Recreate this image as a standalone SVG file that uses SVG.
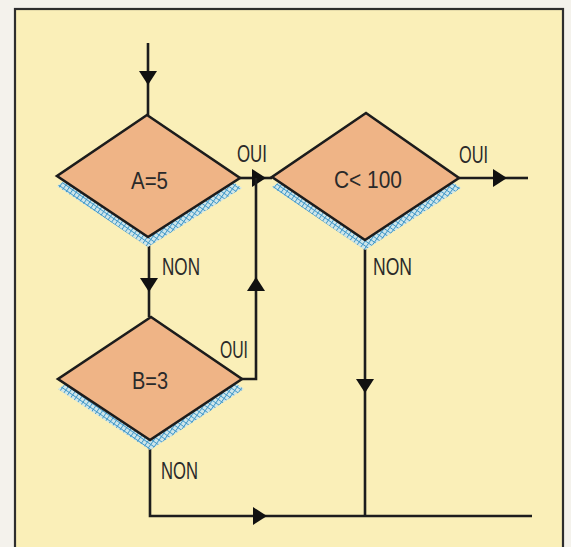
<svg xmlns="http://www.w3.org/2000/svg" width="571" height="547" viewBox="0 0 571 547">
<style>
.frame{fill:#faefb8;stroke:#2e2e2e;stroke-width:2.2}
.dia{fill:#efb486;stroke:#1c1c1c;stroke-width:2.6;stroke-linejoin:miter}
.sh{fill:url(#hatch)}
.ln{fill:none;stroke:#1c1c1c;stroke-width:2.6}
.t{font-family:"Liberation Sans",Arial,sans-serif;font-size:24px;fill:#2a2a2a}
</style>
<defs>
<pattern id="hatch" width="4.2" height="4.2" patternUnits="userSpaceOnUse" patternTransform="rotate(35)">
<rect width="4.2" height="4.2" fill="#cfe6ea"/>
<path d="M0,0H4.2M0,0V4.2" stroke="#3f97c8" stroke-width="1.8"/>
</pattern>
<marker id="arr" viewBox="0 0 14 18" refX="14" refY="9" markerWidth="14" markerHeight="18" markerUnits="userSpaceOnUse" orient="auto">
<path d="M0,0 L14,9 L0,18 z" fill="#111"/>
</marker>
</defs>
<rect width="571" height="547" fill="#f4f2ec"/>
<rect class="frame" x="15" y="9" width="548" height="560"/>

<g id="connectors">
<path class="ln" d="M148,43 V85" marker-end="url(#arr)"/>
<path class="ln" d="M148,85 V115"/>
<path class="ln" d="M149,237 V292" marker-end="url(#arr)"/>
<path class="ln" d="M149,292 V317"/>
<path class="ln" d="M240,178 H266" marker-end="url(#arr)"/>
<path class="ln" d="M266,178 H272"/>
<path class="ln" d="M242,379 H256 V277" marker-end="url(#arr)"/>
<path class="ln" d="M256,277 V178"/>
<path class="ln" d="M459,178 H507" marker-end="url(#arr)"/>
<path class="ln" d="M507,178 H528"/>
<path class="ln" d="M365,240 V393" marker-end="url(#arr)"/>
<path class="ln" d="M365,393 V516"/>
<path class="ln" d="M150,440 V516 H267" marker-end="url(#arr)"/>
<path class="ln" d="M267,516 H532"/>
</g>

<g id="nodeA">
<polygon class="sh" points="148,125 57,186 148,247 242,188"/>
<polygon class="dia" points="147,115 57,176 148,237 240,178"/>
<text class="t" x="131" y="189" textLength="37" lengthAdjust="spacingAndGlyphs">A=5</text>
</g>

<g id="nodeC">
<polygon class="sh" points="366,123 272,187 365,250 461,188"/>
<polygon class="dia" points="366,113 272,177 365,240 459,178"/>
<text class="t" x="334" y="188" textLength="68" lengthAdjust="spacingAndGlyphs">C&lt; 100</text>
</g>

<g id="nodeB">
<polygon class="sh" points="151,327 58,389 150,450 244,389"/>
<polygon class="dia" points="151,317 58,379 150,440 242,379"/>
<text class="t" x="132" y="389" textLength="36" lengthAdjust="spacingAndGlyphs">B=3</text>
</g>

<g id="labels">
<text class="t" x="237" y="162" textLength="30" lengthAdjust="spacingAndGlyphs">OUI</text>
<text class="t" x="459" y="163" textLength="29" lengthAdjust="spacingAndGlyphs">OUI</text>
<text class="t" x="220" y="358" textLength="28" lengthAdjust="spacingAndGlyphs">OUI</text>
<text class="t" x="162" y="275" textLength="38" lengthAdjust="spacingAndGlyphs">NON</text>
<text class="t" x="373" y="275" textLength="39" lengthAdjust="spacingAndGlyphs">NON</text>
<text class="t" x="161" y="479" textLength="37" lengthAdjust="spacingAndGlyphs">NON</text>
</g>
</svg>
